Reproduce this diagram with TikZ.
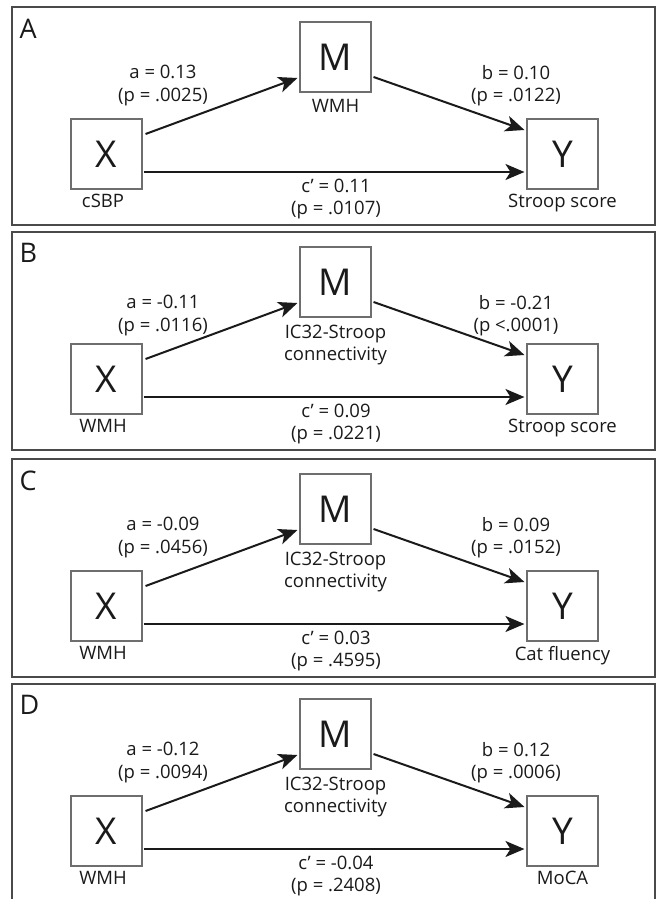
\documentclass[tikz,border=0pt]{standalone}
\usepackage{fontspec}
\setmainfont{Open Sans}
\usetikzlibrary{arrows.meta}
\definecolor{boxgray}{HTML}{6E6E6E}
\definecolor{framegray}{HTML}{4A4A4A}
\definecolor{ink}{HTML}{1A1A1A}
\tikzset{
  var/.style={draw=boxgray, line width=1.1pt, minimum width=71pt, minimum height=70pt, inner sep=0pt, font=\fontsize{37}{40}\selectfont, text=ink},
  lab/.style={font=\fontsize{18.5}{22.5}\selectfont, align=center, inner sep=0pt, anchor=north, text=ink},
  panlab/.style={font=\fontsize{27}{30}\selectfont, inner sep=0pt, anchor=north west, text=ink},
  panelframe/.style={draw=framegray, line width=1.3pt},
  arr/.style={draw=ink, line width=2pt, -{Stealth[length=19pt,width=16pt,inset=5pt]}},
}
\newcommand\mpanel[9]{%
  \begin{scope}[shift={(0,#2)}]
    \draw[panelframe] (12,0) rectangle (655,218);
    \node[panlab] (L#1) at (19.5,11.5) {#3};
    \node[var] (X#1) at (106.5,147) {X};
    \node[var] (M#1) at (335.5,50) {M};
    \node[var] (Y#1) at (562.5,147) {Y};
    \node[lab] (ms#1) at (335.5,92.5) {#4};
    \node[lab] (xs#1) at (103,187) {#5};
    \node[lab] (ys#1) at (562.5,187) {#6};
    \draw[arr] ([xshift=3pt,yshift=20pt]X#1.east) -- ([xshift=-2pt,yshift=-21pt]M#1.west);
    \draw[arr] ([xshift=2pt,yshift=-20pt]M#1.east) -- ([xshift=-2pt,yshift=24pt]Y#1.west);
    \draw[arr] ([xshift=1pt,yshift=-18pt]X#1.east) -- ([xshift=-2pt,yshift=-18pt]Y#1.west);
    \node[lab] (a#1) at (163,58+\labdy) {#7};
    \node[lab] (b#1) at (516,58+\labdy) {#8};
    \node[lab] (c#1) at (336,171.5) {#9};
  \end{scope}}
\begin{document}
\begin{tikzpicture}[x=1pt,y=-1pt]
  \clip (0,0) rectangle (663,899);
  \def\labdy{0}
  \mpanel{A}{7}{A}{WMH}{cSBP}{Stroop score}{a = 0.13\\(p = .0025)}{b = 0.10\\(p = .0122)}{c’ = 0.11\\(p = .0107)}
  \def\labdy{5}
  \mpanel{B}{232}{B}{IC32-Stroop\\connectivity}{WMH}{Stroop score}{a = -0.11\\(p = .0116)}{b = -0.21\\(p <.0001)}{c’ = 0.09\\(p = .0221)}
  \def\labdy{0}
  \mpanel{C}{459}{C}{IC32-Stroop\\connectivity}{WMH}{Cat fluency}{a = -0.09\\(p = .0456)}{b = 0.09\\(p = .0152)}{c’ = 0.03\\(p = .4595)}
  \mpanel{D}{684}{D}{IC32-Stroop\\connectivity}{WMH}{MoCA}{a = -0.12\\(p = .0094)}{b = 0.12\\(p = .0006)}{c’ = -0.04\\(p = .2408)}
\end{tikzpicture}
\end{document}
